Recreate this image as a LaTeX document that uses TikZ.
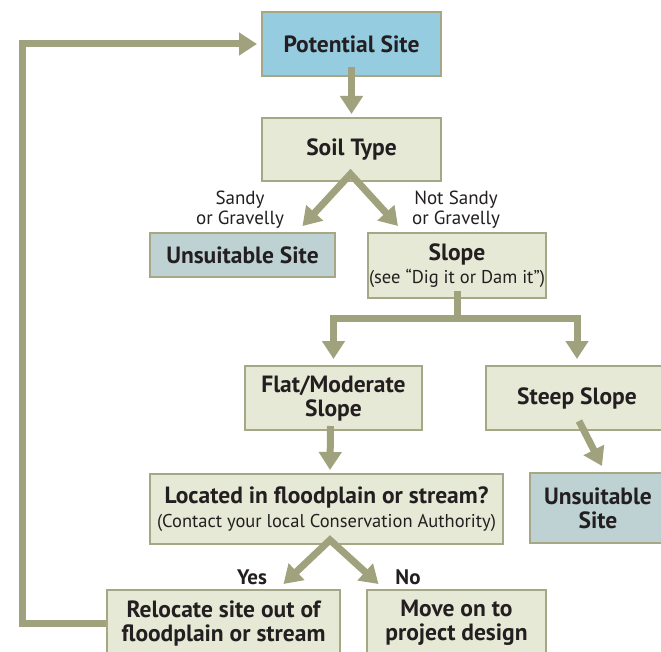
\documentclass[tikz,border=0pt]{standalone}
\usepackage{fontspec}
\setmainfont{PT Sans}
\usetikzlibrary{arrows.meta,calc,positioning}
\definecolor{arrowgray}{HTML}{A0A27E}
\definecolor{edgegray}{HTML}{A5A785}
\definecolor{paleolive}{HTML}{E6E9D5}
\definecolor{skyblue}{HTML}{96CCE0}
\definecolor{slateblue}{HTML}{BED2D3}
\definecolor{inkblack}{HTML}{231F20}
\begin{document}
\begin{tikzpicture}[x=1pt,y=-1pt,
  block/.style={draw=edgegray,line width=2pt,fill=paleolive,rectangle,align=center,
    inner sep=0pt,text=inkblack,font=\fontsize{23.5}{24}\selectfont\bfseries},
  start/.style={block,fill=skyblue},
  reject/.style={block,fill=slateblue},
  note/.style={font=\fontsize{19}{20}\selectfont,align=center,text=inkblack},
  flow/.style={draw=arrowgray,line width=7pt,-{Triangle[width=22pt,length=18pt]},line join=miter},
  fork/.style={flow,{Triangle[width=22pt,length=18pt]}-{Triangle[width=22pt,length=18pt]}},
  stem/.style={draw=arrowgray,line width=7pt}]

        \useasboundingbox[fill=white] (0,0) rectangle (661,652);

        \node[start,minimum width=179pt,minimum height=64pt] (pot) at (351.5,44) {Potential Site};
        \node[block,minimum width=179pt,minimum height=63pt] (soil) at (351.5,149.5) {Soil Type};
        \node[reject,minimum width=185pt,minimum height=44pt] (uns1) at (242.5,255) {Unsuitable Site};
        \node[block,minimum width=178pt,minimum height=65pt] (slope) at (457,265.5)
          {Slope\\[-1pt]{\fontsize{18.5}{20}\selectfont\mdseries (see “Dig it or Dam it”)}};
        \node[block,minimum width=177pt,minimum height=64pt] (flat) at (333.5,398) {Flat/Moderate\\Slope};
        \node[block,minimum width=182pt,minimum height=64pt] (steep) at (577,398) {Steep Slope};
        \node[reject,minimum width=136pt,minimum height=70pt] (uns2) at (598,508) {Unsuitable\\Site};
        \node[block,minimum width=353pt,minimum height=70pt] (loc) at (326.5,509)
          {Located in floodplain or stream?\\[0pt]{\fontsize{18.5}{20}\selectfont\mdseries (Contact your local Conservation Authority)}};
        \node[block,minimum width=233pt,minimum height=66pt] (reloc) at (223.5,623) {Relocate site out of\\floodplain or stream};
        \node[block,minimum width=179pt,minimum height=66pt] (move) at (456.5,623) {Move on to\\project design};

        \node[note] (sandy) at (240,210) {Sandy\\or Gravelly};
        \node[note] (notsandy) at (456,210) {Not Sandy\\or Gravelly};
        \node[note,font=\fontsize{21}{22}\selectfont\bfseries] (yes) at (252,577) {Yes};
        \node[note,font=\fontsize{21}{22}\selectfont\bfseries] (no) at (408,577) {No};

        \draw[flow] ([yshift=10pt]pot.south) -- ([yshift=3pt]soil.north);
        \draw[fork] ([xshift=60pt,yshift=6pt]uns1.north) -- ([xshift=-1pt,yshift=8pt]soil.south)
          -- ([xshift=-59pt,yshift=6pt]slope.north);

        \coordinate (bus) at (0,318);
        \draw[stem] ([yshift=8pt]slope.south) -- (slope.south |- bus);
        \draw[fork] ([yshift=6pt]flat.north) |- (slope.south |- bus) -| ([yshift=6pt]steep.north);
        \draw[flow] ([xshift=-3pt,yshift=5pt]flat.south) -- ([xshift=3.5pt,yshift=3pt]loc.north);
        \draw[flow] ([xshift=2pt,yshift=10pt]steep.south) -- ([xshift=4pt,yshift=6pt]uns2.north);

        \draw[fork] ([xshift=60pt,yshift=5pt]reloc.north) -- ([xshift=3.5pt,yshift=5pt]loc.south)
          -- ([xshift=-78pt,yshift=5pt]move.north);

        \coordinate (corner) at (22,44);
        \draw[flow,shorten >=4pt] (reloc.west) -| (corner) -- (pot.west);
      \end{tikzpicture}
\end{document}
